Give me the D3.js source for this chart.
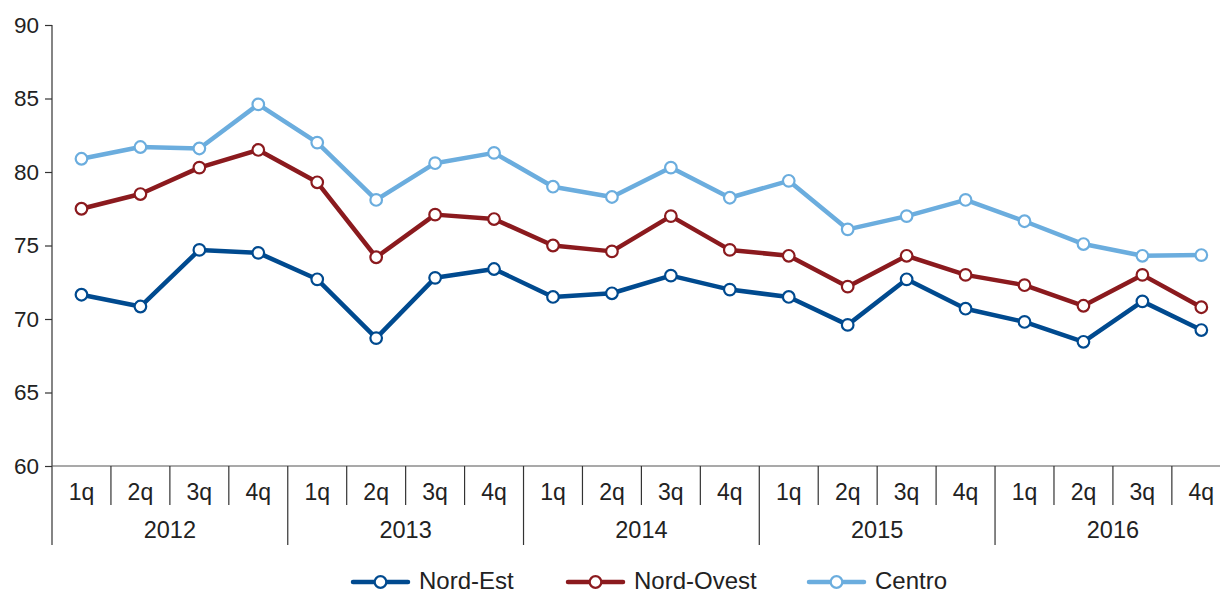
<!DOCTYPE html>
<html>
<head>
<meta charset="utf-8">
<script src="https://cdn.jsdelivr.net/npm/d3@7"></script>
<style>
  html, body { margin: 0; padding: 0; background: #fff; }
  svg { display: block; font-family: "Liberation Sans", Arial, Helvetica, sans-serif; }
</style>
</head>
<body>
<svg id="chart" width="1220" height="593"></svg>
<script>
// Quarterly series, 2012–2016
const years = ["2012", "2013", "2014", "2015", "2016"];
const quarters = ["1q", "2q", "3q", "4q"];
const yTicks = [60, 65, 70, 75, 80, 85, 90];

const nordEst   = [71.65, 70.85, 74.7, 74.5, 72.7, 68.7, 72.8, 73.4, 71.5, 71.75, 72.95, 72.0, 71.5, 69.6, 72.7, 70.7, 69.8, 68.45, 71.2, 69.25];
const nordOvest = [77.5, 78.5, 80.3, 81.5, 79.3, 74.2, 77.1, 76.8, 75.0, 74.6, 77.0, 74.7, 74.3, 72.2, 74.3, 73.0, 72.3, 70.9, 73.0, 70.8];
const centro    = [80.9, 81.7, 81.6, 84.6, 82.0, 78.1, 80.6, 81.3, 79.0, 78.3, 80.3, 78.25, 79.4, 76.1, 77.0, 78.1, 76.65, 75.1, 74.3, 74.35];

const seriesNames = ["Nord-Est", "Nord-Ovest", "Centro"];
const seriesColors = ["#004a8f", "#8b1a1e", "#6badde"];
const seriesValues = [nordEst, nordOvest, centro];

const keys = [];
years.forEach(yr => quarters.forEach(q => keys.push(yr + "-" + q)));

const svg = d3.select("#chart");
const plotLeft = 52, plotTop = 25, plotBottom = 466;
const step = 58.94;
const axisColor = "#333";
const textColor = "#222";

const x = d3.scaleBand().domain(keys).range([plotLeft, plotLeft + step * keys.length]).paddingInner(0).paddingOuter(0);
const y = d3.scaleLinear().domain([60, 90]).range([plotBottom, plotTop]);

// Y axis
const yAxis = d3.axisLeft(y).tickValues(yTicks).tickSize(7).tickPadding(6);
const gy = svg.append("g").attr("transform", `translate(${plotLeft},0)`).call(yAxis);
gy.select(".domain").remove();
gy.selectAll(".tick line").attr("stroke", axisColor).attr("stroke-width", 1.2);
gy.selectAll(".tick text").attr("fill", textColor).style("font-size", "22.5px").style("font-family", "Liberation Sans, Arial, sans-serif");
svg.append("line").attr("x1", plotLeft).attr("x2", plotLeft).attr("y1", plotTop).attr("y2", 545)
  .attr("stroke", axisColor).attr("stroke-width", 1.2);

// X axis baseline
svg.append("line").attr("x1", plotLeft).attr("x2", 1220).attr("y1", plotBottom).attr("y2", plotBottom)
  .attr("stroke", "#555").attr("stroke-width", 1.2);

// Quarter separators and labels
const gx = svg.append("g");
keys.forEach((k, i) => {
  if (i > 0) {
    const isYear = i % 4 === 0;
    gx.append("line").attr("x1", x(k)).attr("x2", x(k)).attr("y1", plotBottom).attr("y2", isYear ? 545 : 505)
      .attr("stroke", axisColor).attr("stroke-width", 1.2);
  }
  gx.append("text").attr("x", x(k) + x.bandwidth() / 2).attr("y", 500)
    .attr("text-anchor", "middle").attr("fill", textColor).style("font-size", "23px")
    .text(k.split("-")[1]);
});
years.forEach(yr => {
  const x0 = x(yr + "-1q"), x1 = x(yr + "-4q") + x.bandwidth();
  gx.append("text").attr("x", (x0 + x1) / 2).attr("y", 538)
    .attr("text-anchor", "middle").attr("fill", textColor).style("font-size", "23.5px").text(yr);
});

// Lines and markers
const line = d3.line().x((d, i) => x(keys[i]) + x.bandwidth() / 2).y(d => y(d));
seriesValues.forEach((vals, s) => {
  svg.append("path").datum(vals).attr("d", line).attr("fill", "none")
    .attr("stroke", seriesColors[s]).attr("stroke-width", 4.5).attr("stroke-linejoin", "round");
});
seriesValues.forEach((vals, s) => {
  svg.append("g").selectAll("circle").data(vals).join("circle")
    .attr("cx", (d, i) => x(keys[i]) + x.bandwidth() / 2).attr("cy", d => y(d)).attr("r", 5.8)
    .attr("fill", "#fff").attr("stroke", seriesColors[s]).attr("stroke-width", 2.2);
});

// Legend
const legendX = [353, 568, 809];
const legendY = 582;
seriesNames.forEach((name, s) => {
  const g = svg.append("g").attr("transform", `translate(${legendX[s]},${legendY})`);
  g.append("line").attr("x1", 0).attr("x2", 55).attr("y1", 0).attr("y2", 0)
    .attr("stroke", seriesColors[s]).attr("stroke-width", 4.5).attr("stroke-linecap", "round");
  g.append("circle").attr("cx", 27.5).attr("cy", 0).attr("r", 5.8)
    .attr("fill", "#fff").attr("stroke", seriesColors[s]).attr("stroke-width", 2.2);
  g.append("text").attr("x", 66).attr("y", 6.5).attr("fill", textColor).style("font-size", "24px").text(name);
});
</script>
</body>
</html>
